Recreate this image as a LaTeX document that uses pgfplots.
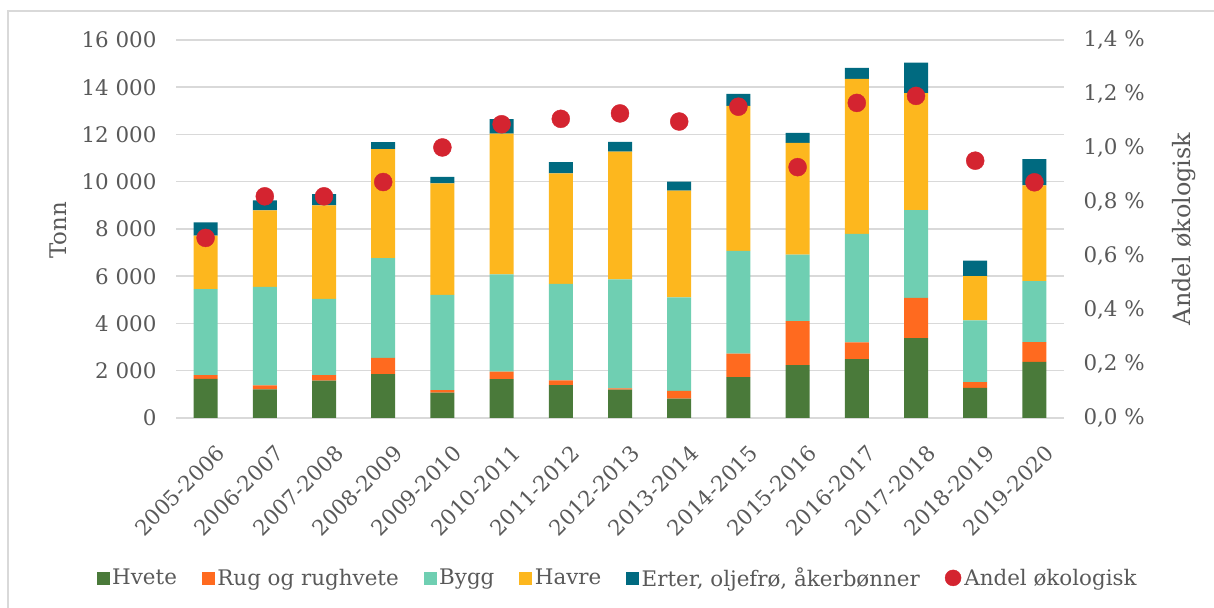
\documentclass[border=0pt]{standalone}
\usepackage{fontspec}
\setmainfont{DejaVu Serif}
\usepackage{pgfplots}
\pgfplotsset{compat=1.18}
\definecolor{hvete}{HTML}{4A7A3A}
\definecolor{rug}{HTML}{FF6A1F}
\definecolor{bygg}{HTML}{6FCFB2}
\definecolor{havre}{HTML}{FDB71E}
\definecolor{erter}{HTML}{006A80}
\definecolor{dot}{HTML}{D42430}
\definecolor{txtgray}{HTML}{595959}
\definecolor{gridgray}{HTML}{D9D9D9}
\begin{document}
\begin{tikzpicture}
\useasboundingbox (0bp,0bp) rectangle (1214bp,608bp);
\draw[gridgray, line width=1.5bp] (8bp,-20bp) rectangle (1240bp,597bp);
\begin{axis}[
  at={(176bp,190bp)}, anchor=south west, scale only axis,
  width=888bp, height=378bp,
  ybar stacked, bar width=24bp,
  xmin=-0.5, xmax=14.5, ymin=0, ymax=16000,
  scaled y ticks=false,
  xtick={0,...,14},
  xticklabels={2005-2006,2006-2007,2007-2008,2008-2009,2009-2010,2010-2011,2011-2012,2012-2013,2013-2014,2014-2015,2015-2016,2016-2017,2017-2018,2018-2019,2019-2020},
  ytick={0,2000,4000,6000,8000,10000,12000,14000,16000},
  yticklabels={0,2 000,4 000,6 000,8 000,10 000,12 000,14 000,16 000},
  ymajorgrids, grid style={draw=gridgray, line width=1.5bp},
  axis line style={draw=none}, major tick length=0pt,
  tick label style={font=\fontsize{21.5}{21.5}\selectfont, text=txtgray},
  xticklabel style={rotate=45, anchor=east, yshift=-33bp, xshift=-8bp},
  yticklabel style={xshift=-16bp},
  ylabel={Tonn}, ylabel style={font=\fontsize{23}{23}\selectfont, text=txtgray, at={(rel axis cs:-0.133,0.497)}, anchor=center},
  clip=false,
]
\addplot[fill=hvete, draw=none] coordinates {(0,1660) (1,1210) (2,1580) (3,1860) (4,1070) (5,1650) (6,1390) (7,1200) (8,820) (9,1730) (10,2240) (11,2490) (12,3380) (13,1280) (14,2380)};
\addplot[fill=rug, draw=none] coordinates {(0,160) (1,170) (2,240) (3,680) (4,110) (5,310) (6,200) (7,50) (8,330) (9,990) (10,1860) (11,710) (12,1700) (13,240) (14,830)};
\addplot[fill=bygg, draw=none] coordinates {(0,3640) (1,4170) (2,3220) (3,4230) (4,4030) (5,4120) (6,4090) (7,4620) (8,3960) (9,4350) (10,2820) (11,4590) (12,3720) (13,2610) (14,2580)};
\addplot[fill=havre, draw=none] coordinates {(0,2260) (1,3240) (2,3960) (3,4610) (4,4720) (5,5960) (6,4670) (7,5410) (8,4510) (9,6140) (10,4730) (11,6560) (12,4950) (13,1870) (14,4060)};
\addplot[fill=erter, draw=none] coordinates {(0,560) (1,420) (2,480) (3,300) (4,280) (5,610) (6,480) (7,410) (8,380) (9,510) (10,420) (11,470) (12,1290) (13,660) (14,1110)};
\end{axis}
\begin{axis}[
  at={(176bp,190bp)}, anchor=south west, scale only axis,
  width=888bp, height=378bp,
  xmin=-0.5, xmax=14.5, ymin=0, ymax=1.4,
  axis x line=none, axis y line*=right,
  axis line style={draw=none}, major tick length=0pt,
  ytick={0,0.2,0.4,0.6,0.8,1.0,1.2,1.4},
  yticklabels={{0,0 \%},{0,2 \%},{0,4 \%},{0,6 \%},{0,8 \%},{1,0 \%},{1,2 \%},{1,4 \%}},
  tick label style={font=\fontsize{21.5}{21.5}\selectfont, text=txtgray},
  yticklabel style={xshift=16bp},
  ylabel={Andel økologisk}, ylabel style={font=\fontsize{24}{24}\selectfont, text=txtgray, at={(rel axis cs:1.135,0.50)}, anchor=center, rotate=0},
  clip=false,
  legend columns=-1,
  legend style={at={(rel axis cs:0.498,-0.423)}, anchor=center, draw=none, fill=none,
    font=\fontsize{21.5}{21.5}\selectfont, text=txtgray,
    nodes={inner xsep=3bp},
    /tikz/every even column/.append style={column sep=22bp}},
  legend cell align=left,
]
\addlegendimage{legend image code/.code={\fill[hvete] (0bp,-6bp) rectangle (12bp,6bp);}}
\addlegendentry{Hvete}
\addlegendimage{legend image code/.code={\fill[rug] (0bp,-6bp) rectangle (12bp,6bp);}}
\addlegendentry{Rug og rughvete}
\addlegendimage{legend image code/.code={\fill[bygg] (0bp,-6bp) rectangle (12bp,6bp);}}
\addlegendentry{Bygg}
\addlegendimage{legend image code/.code={\fill[havre] (0bp,-6bp) rectangle (12bp,6bp);}}
\addlegendentry{Havre}
\addlegendimage{legend image code/.code={\fill[erter] (0bp,-6bp) rectangle (12bp,6bp);}}
\addlegendentry{Erter, oljefrø, åkerbønner}
\addplot[only marks, mark=*, mark size=9bp, color=dot, mark options={fill=dot, draw=dot},
  legend image code/.code={\fill[dot] (4bp,0bp) circle (8bp);}]
  coordinates {(0,0.667) (1,0.821) (2,0.821) (3,0.874) (4,1.002) (5,1.088) (6,1.108) (7,1.128) (8,1.098) (9,1.153) (10,0.929) (11,1.167) (12,1.193) (13,0.953) (14,0.873)};
\addlegendentry{Andel økologisk}
\end{axis}
\end{tikzpicture}
\end{document}
